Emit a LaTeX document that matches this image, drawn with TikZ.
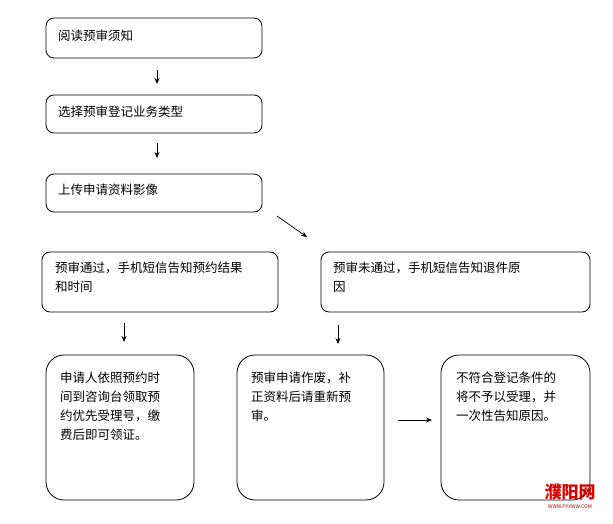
\documentclass[tikz,border=0pt]{standalone}
\usepackage{fontspec}
\setmainfont{Noto Sans CJK SC}
\usetikzlibrary{arrows.meta}
\begin{document}
\begin{tikzpicture}[x=1pt,y=-1pt,
  box/.style={draw,rounded corners=8pt,line width=0.8pt},
  bigbox/.style={draw,rounded corners=18pt,line width=0.8pt},
  txt/.style={anchor=north west,align=left,font=\fontsize{12.5}{19}\selectfont,inner sep=0pt},
  arr/.style={-{Stealth[length=6pt,width=5pt]},line width=0.7pt}]
\useasboundingbox (0,0) rectangle (613,524);
\draw[box] (46,18) rectangle (262,58);
\node[txt] (t1) at (58,30) {阅读预审须知};
\draw[box] (46,95) rectangle (262,133);
\node[txt] (t2) at (58,106) {选择预审登记业务类型};
\draw[box] (46,174) rectangle (262,212);
\node[txt] (t3) at (58,184) {上传申请资料影像};
\draw[box] (42,252) rectangle (278,312);
\node[txt] (t4) at (55,262) {预审通过，手机短信告知预约结果\\和时间};
\draw[box] (321,252) rectangle (590,312);
\node[txt] (t5) at (333,262) {预审未通过，手机短信告知退件原\\因};
\draw[bigbox] (46,355) rectangle (194,500);
\node[txt] (t6) at (60,372) {申请人依照预约时\\间到咨询台领取预\\约优先受理号，缴\\费后即可领证。};
\draw[bigbox] (237,355) rectangle (384,500);
\node[txt] (t7) at (251,372) {预审申请作废，补\\正资料后请重新预\\审。};
\draw[bigbox] (441,355) rectangle (590,500);
\node[txt] (t8) at (456,372) {不符合登记条件的\\将不予以受理，并\\一次性告知原因。};
\coordinate (a1) at (157,70); \coordinate (b1) at (157,84);
\coordinate (a2) at (157,143); \coordinate (b2) at (157,158);
\coordinate (a3) at (277,216); \coordinate (b3) at (307,237);
\coordinate (a4) at (124,323); \coordinate (b4) at (124,342);
\coordinate (a5) at (338,325); \coordinate (b5) at (338,344);
\coordinate (a6) at (398,420); \coordinate (b6) at (432,420);
\foreach \i in {1,...,6} \draw[arr] (a\i) -- (b\i);
\node[font=\bfseries\fontsize{17}{17}\selectfont,text=red!85!black,inner sep=0pt] (logo) at (570,492) {濮阳网};
\node[font=\fontsize{5}{5}\selectfont,text=red!70!black,inner sep=0pt] (url) at (570,507) {WWW.PYXWW.COM};
\end{tikzpicture}
\end{document}
